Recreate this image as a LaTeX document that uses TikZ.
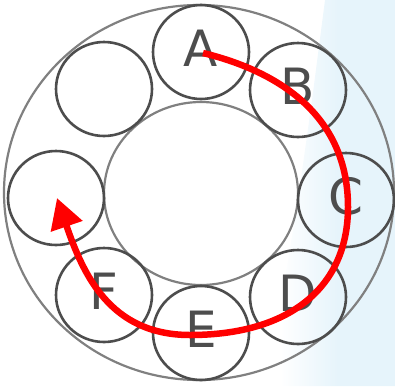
\documentclass[tikz,border=0pt]{standalone}
\usepackage{fontspec}
\setmainfont{DejaVu Sans}
\usetikzlibrary{shapes.geometric,arrows.meta}
\definecolor{ringgray}{HTML}{808080}
\definecolor{ballgray}{HTML}{4D4D4D}
\definecolor{bgblue}{HTML}{E6F4FB}
\tikzset{
  ball/.style={ellipse, draw=ballgray, line width=2.6pt, minimum width=96pt, minimum height=94pt,
    inner sep=0pt, text=ballgray, font=\fontsize{50}{60}\selectfont, text depth=8pt},
  ring/.style={draw=ringgray, line width=2.2pt},
  turn/.style={draw=red, line width=6.5pt, -{Triangle[length=30pt,width=32pt]}}
}
\begin{document}
\begin{tikzpicture}[x=1pt,y=-1pt]
\useasboundingbox (0,0) rectangle (395,386);
\shade[left color=white, right color=bgblue, middle color=bgblue] (325,0) -- (395,0) -- (395,386) -- (280,386) -- (283,290) -- (298,200) -- (312,100) -- cycle;
\draw[ring] (199,192.5) ellipse [x radius=195, y radius=187.5];
\draw[ring] (201,193.5) ellipse [x radius=97, y radius=91.5];
\node[ball] (A) at (201,52) {A};
\node[ball] (B) at (298,90) {B};
\node[ball] (C) at (346,200) {C};
\node[ball] (D) at (298,297) {D};
\node[ball] (E) at (201,333) {E};
\node[ball] (F) at (104,295) {F};
\node[ball] (G) at (56,198) {};
\node[ball] (H) at (104,89) {};
\coordinate (R) at (348,207);
\coordinate (S) at (190,335);
\draw[turn] ([shift={(2,1)}]A.center) .. controls (281,72) and (348,117) .. (R)
  .. controls (348,287) and (290,335) .. (S)
  .. controls (110,335) and (83,274) .. ([shift={(1,0)}]G.center);
\end{tikzpicture}
\end{document}
